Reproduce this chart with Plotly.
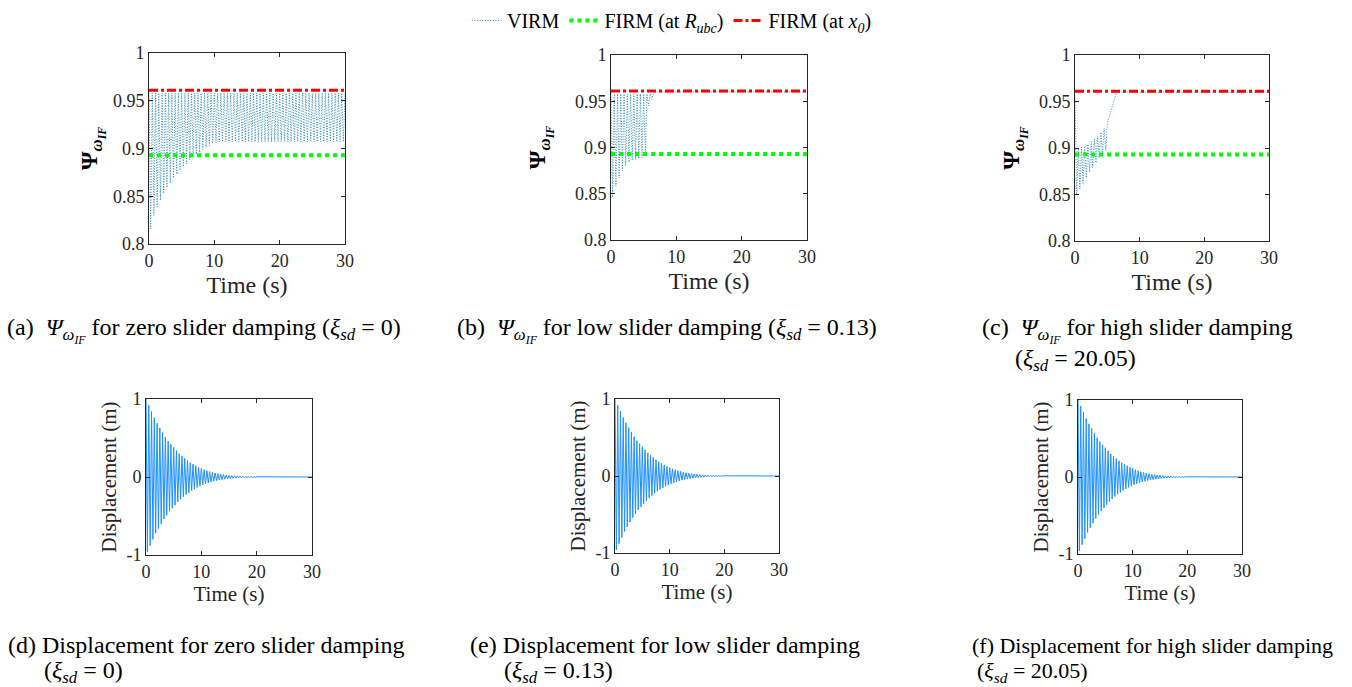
import plotly.graph_objects as go

W, H = 1352, 687
FONT = "Liberation Serif"
INK = "#262626"

# ---------------- data ----------------
T_END = 30.0
HALF_STEP = 0.25          # time between successive extrema of the oscillations

FIRM_RUBC = 0.893          # FIRM (at R_ubc)
FIRM_X0 = 0.961            # FIRM (at x_0)

# (a) zero slider damping: VIRM upper peaks and lower troughs
PSI_A_PEAK = 0.958
PSI_A_TROUGHS = [
    0.816, 0.830, 0.839, 0.846, 0.853, 0.859, 0.864, 0.869, 0.873, 0.877,
    0.881, 0.884, 0.888, 0.891, 0.894, 0.896, 0.899, 0.901, 0.903, 0.905,
    0.906, 0.907, 0.907, 0.907, 0.907, 0.907, 0.907, 0.907, 0.907, 0.907,
    0.907, 0.907, 0.907, 0.907, 0.907, 0.907, 0.907, 0.907, 0.907, 0.907,
    0.907, 0.907, 0.907, 0.907, 0.907, 0.907, 0.907, 0.907, 0.907, 0.907,
    0.907, 0.907, 0.907, 0.907, 0.907, 0.907, 0.907, 0.907, 0.907, 0.907,
]

# (b) low slider damping
PSI_B_PEAK = 0.958
PSI_B_TROUGHS = [0.846, 0.858, 0.867, 0.875, 0.880, 0.884, 0.886, 0.887, 0.888, 0.889, 0.892]
PSI_B_TAIL_T = [5.75, 6.0, 6.25, 6.5, 6.75, 30.0]
PSI_B_TAIL_V = [0.945, 0.958, 0.952, 0.959, 0.960, 0.960]

# (c) high slider damping
PSI_C_START = 0.955
PSI_C_LOWER = [0.850, 0.856, 0.862, 0.868, 0.874, 0.879, 0.884, 0.889, 0.893, 0.897]
PSI_C_UPPER = [0.900, 0.901, 0.902, 0.904, 0.907, 0.910, 0.913, 0.917, 0.921, 0.926]
PSI_C_TAIL_T = [5.5, 6.0, 6.4, 30.0]
PSI_C_TAIL_V = [0.938, 0.952, 0.960, 0.960]

# (d)-(f) displacement: magnitude of successive extrema (one per 0.25 s, from t = 0)
DISP_PEAKS = [
    1.00, 0.96, 0.92, 0.88,
    0.84, 0.80, 0.76, 0.72,
    0.69, 0.66, 0.63, 0.60,
    0.57, 0.54, 0.51, 0.49,
    0.46, 0.44, 0.42, 0.40,
    0.38, 0.36, 0.34, 0.32,
    0.30, 0.285, 0.27, 0.255,
    0.24, 0.225, 0.21, 0.20,
    0.185, 0.175, 0.165, 0.155,
    0.145, 0.135, 0.125, 0.118,
    0.110, 0.100, 0.094, 0.088,
    0.082, 0.076, 0.070, 0.065,
    0.060, 0.055, 0.051, 0.047,
    0.043, 0.040, 0.037, 0.034,
    0.031, 0.028, 0.026, 0.024,
    0.022, 0.020, 0.018, 0.017,
    0.015, 0.014, 0.013, 0.012,
    0.011, 0.010, 0.009, 0.008,
    0.007, 0.006, 0.006, 0.005,
    0.005, 0.004, 0.004, 0.003,
    0.003,
]

PSI_TICKS = [0.8, 0.85, 0.9, 0.95, 1.0]
PSI_TICKTEXT = ["0.8", "0.85", "0.9", "0.95", "1"]
DISP_TICKS = [-1, 0, 1]
DISP_TICKTEXT = ["-1", "0", "1"]
TIME_TICKS = [0, 10, 20, 30]

# ---------------- build series ----------------
def psi_a():
    xs, ys = [], []
    for k, tr in enumerate(PSI_A_TROUGHS):
        xs += [2 * k * HALF_STEP, (2 * k + 1) * HALF_STEP]
        ys += [PSI_A_PEAK, tr]
    xs.append(T_END); ys.append(PSI_A_PEAK)
    return xs, ys

def psi_b():
    xs, ys = [], []
    for k, tr in enumerate(PSI_B_TROUGHS):
        xs += [2 * k * HALF_STEP, (2 * k + 1) * HALF_STEP]
        ys += [PSI_B_PEAK, tr]
    xs.append(2 * len(PSI_B_TROUGHS) * HALF_STEP); ys.append(PSI_B_PEAK)
    xs += PSI_B_TAIL_T; ys += PSI_B_TAIL_V
    return xs, ys

def psi_c():
    xs, ys = [0.0], [PSI_C_START]
    for k, (lo, up) in enumerate(zip(PSI_C_LOWER, PSI_C_UPPER)):
        xs += [(2 * k + 1) * HALF_STEP, (2 * k + 2) * HALF_STEP]
        ys += [lo, up]
    xs += PSI_C_TAIL_T; ys += PSI_C_TAIL_V
    return xs, ys

def disp():
    xs, ys = [], []
    for k, a in enumerate(DISP_PEAKS):
        xs.append(k * HALF_STEP)
        ys.append(a if k % 2 == 0 else -a)
    xs.append(T_END); ys.append(0.0)
    return xs, ys

# ---------------- figure ----------------
fig = go.Figure()

# plot-area boxes in pixels: (left, right, top, bottom)
BOXES = {
    1: (149, 345, 53, 244),
    2: (611, 807, 55, 240),
    3: (1075, 1269, 55, 241),
    4: (146, 312, 399, 555),
    5: (615, 779, 399, 553),
    6: (1078, 1242, 400, 554),
}
PSI_TITLE_STANDOFF = {1: 8, 2: 22, 3: 12}

VIRM_STYLE = dict(color="#0072BD", width=0.8, dash="1px,1.6px")
GREEN_STYLE = dict(color="#00FF00", width=4, dash="dot")
RED_STYLE = dict(color="#FF0000", width=3, dash="dashdot")

psi_series = [psi_a(), psi_b(), psi_c()]
for i, (xs, ys) in enumerate(psi_series, start=1):
    ax = "" if i == 1 else str(i)
    fig.add_trace(go.Scatter(x=xs, y=ys, mode="lines", line=VIRM_STYLE, name="VIRM",
                             showlegend=(i == 1), xaxis="x" + ax, yaxis="y" + ax))
    fig.add_trace(go.Scatter(x=[0, T_END], y=[FIRM_RUBC, FIRM_RUBC], mode="lines", line=GREEN_STYLE,
                             name="FIRM (at <i>R</i><sub><i>ubc</i></sub>)",
                             showlegend=(i == 1), xaxis="x" + ax, yaxis="y" + ax))
    fig.add_trace(go.Scatter(x=[0, T_END], y=[FIRM_X0, FIRM_X0], mode="lines", line=RED_STYLE,
                             name="FIRM (at <i>x</i><sub><i>0</i></sub>)",
                             showlegend=(i == 1), xaxis="x" + ax, yaxis="y" + ax))

dx, dy = disp()
for i in (4, 5, 6):
    fig.add_trace(go.Scatter(x=dx, y=dy, mode="lines", line=dict(color="#1E90FF", width=1),
                             showlegend=False, xaxis="x%d" % i, yaxis="y%d" % i))

layout = dict(
    template="none",
    width=W, height=H, autosize=False,
    margin=dict(l=0, r=0, t=0, b=0, pad=0),
    paper_bgcolor="white", plot_bgcolor="white",
    font=dict(family=FONT, color="black", size=17),
    legend=dict(orientation="h", x=0.497, xanchor="center", y=1 - 1 / H, yanchor="top",
                font=dict(family=FONT, size=20, color="black"), bgcolor="rgba(0,0,0,0)",
                itemwidth=30, tracegroupgap=0),
)

def axis_common():
    return dict(showline=True, linecolor=INK, linewidth=1, mirror="ticks", ticks="inside",
                ticklen=4, tickcolor=INK, showgrid=False, zeroline=False, automargin=False,
                tickfont=dict(family=FONT, size=18, color=INK))

PSI_YTITLE = "<b>Ψ</b><sub><b><i>ω</i></b><sub><b><i>IF</i></b></sub></sub>"

for i, (l, r, t, b) in BOXES.items():
    xa = axis_common()
    ya = axis_common()
    xa.update(domain=[l / W, r / W], range=[0, T_END], tickvals=TIME_TICKS,
              anchor="y" if i == 1 else "y%d" % i)
    ya.update(domain=[1 - b / H, 1 - t / H], anchor="x" if i == 1 else "x%d" % i)
    if i <= 3:
        ya.update(range=[0.8, 1.0], tickvals=PSI_TICKS, ticktext=PSI_TICKTEXT,
                  title=dict(text=PSI_YTITLE, font=dict(family=FONT, size=24, color="black"),
                             standoff=PSI_TITLE_STANDOFF[i]))
        xa.update(title=dict(text="Time (s)", font=dict(family=FONT, size=24, color=INK), standoff=6))
    else:
        ya.update(range=[-1, 1], tickvals=DISP_TICKS, ticktext=DISP_TICKTEXT,
                  title=dict(text="Displacement (m)", font=dict(family=FONT, size=21, color=INK), standoff=4))
        xa.update(title=dict(text="Time (s)", font=dict(family=FONT, size=21, color=INK), standoff=4))
    layout["xaxis" if i == 1 else "xaxis%d" % i] = xa
    layout["yaxis" if i == 1 else "yaxis%d" % i] = ya

fig.update_layout(**layout)

PSI_CAP = "<i>Ψ</i><sub><i>ω</i><sub><i>IF</i></sub></sub>"
XI = "<i>ξ</i><sub><i>sd</i></sub>"
CAPTIONS = [
    (5, 330, "(a)  " + PSI_CAP + " for zero slider damping (" + XI + " = 0)", 24),
    (455, 330, "(b)  " + PSI_CAP + " for low slider damping (" + XI + " = 0.13)", 24),
    (980, 330, "(c)  " + PSI_CAP + " for high slider damping", 24),
    (1013, 360, "(" + XI + " = 20.05)", 24),
    (6, 645, "(d) Displacement for zero slider damping", 24),
    (42, 672, "(" + XI + " = 0)", 24),
    (468, 645, "(e) Displacement for low slider damping", 24),
    (502, 672, "(" + XI + " = 0.13)", 24),
    (970, 645, "(f) Displacement for high slider damping", 22),
    (975, 672, "(" + XI + " = 20.05)", 22),
]
for x, y, txt, sz in CAPTIONS:
    fig.add_annotation(x=x / W, y=1 - y / H, xref="paper", yref="paper", text=txt,
                       showarrow=False, xanchor="left", yanchor="middle",
                       font=dict(family=FONT, size=sz, color="black"))

fig.write_html("out.html", config={"displayModeBar": False},
               post_script="document.body.style.margin='0';document.body.style.overflow='hidden';")
